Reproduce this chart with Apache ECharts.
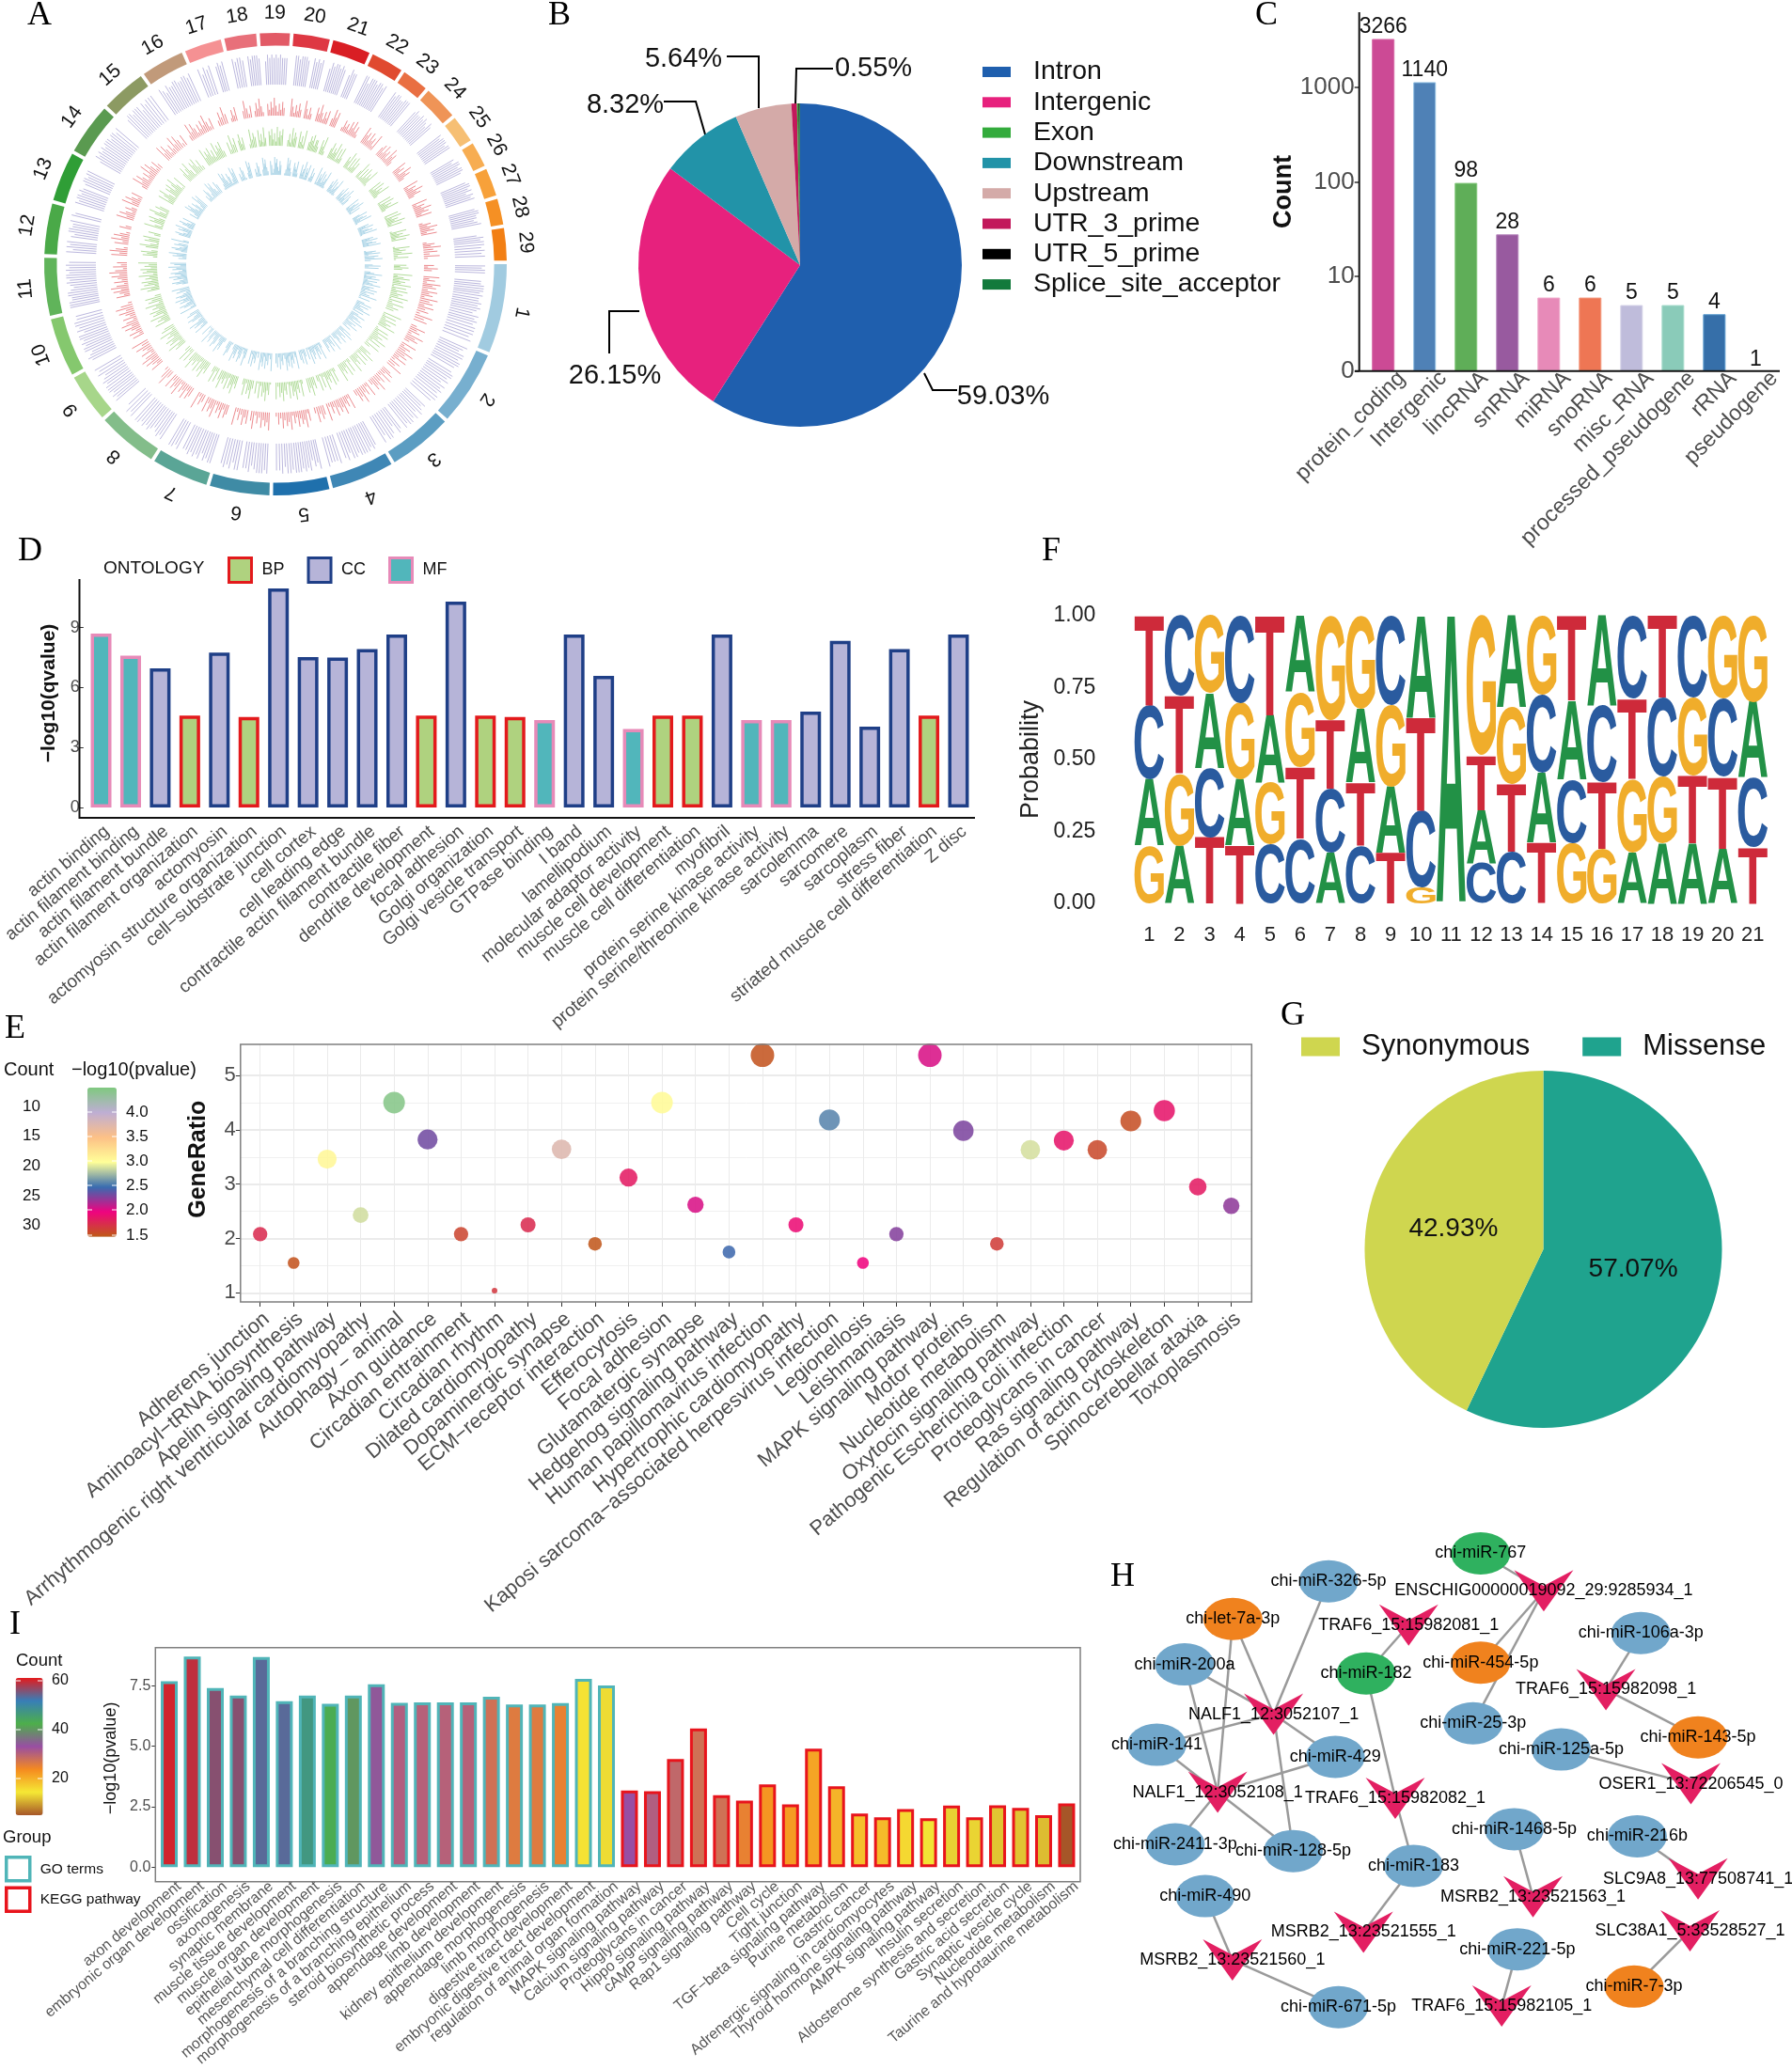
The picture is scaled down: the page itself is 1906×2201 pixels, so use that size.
<!DOCTYPE html>
<html><head><meta charset="utf-8">
<script src="https://cdn.jsdelivr.net/npm/echarts@6/dist/echarts.min.js"></script>
<style>html,body{margin:0;padding:0;background:#fff}#c{width:1906px;height:2201px}</style>
</head><body><div id="c"></div>
<script>
// ---------- A: circos ----------
const chromLabels = ['1','2','3','4','5','6','7','8','9','10','11','12','13','14','15','16','17','18','19','20','21','22','23','24','25','26','27','28','29'];
const chromSpans = [23.3,19.6,17,16.6,15,15.9,15.1,16,13,15.6,15.4,13.6,13.3,13.8,12.1,11.7,10.2,8.9,8.4,10,10.4,9,7.5,9.4,7.7,7.2,7.9,7.4,9];
const chromColors = ['#a1cbe0','#77afcf','#5b9dc2','#3f87b5','#1f70ac','#3f8ba5','#5aa596','#83bd8a','#a7d68a','#85c86e','#60b45a','#4aa948','#2f9e36','#5a9a50','#8c9a62','#c19a7a','#f59193','#e8707a','#e25a66','#de3843','#d91e24','#e04a30','#e96f42','#ef9457','#f6bf73','#f7ad52','#f7a13a','#f59024','#f27f14'];
const siteAngles = [
0.5,1.1,1.7,2.4,4.8,5.5,6.1,6.8,7.5,8.1,8.8,9.6,10.3,11,11.7,12.4,13.1,13.9,14.7,15.5,16.2,17,17.9,18.8,19.7,20.6,21.6,
23.9,24.7,25.4,26.2,27,27.8,28.6,29.3,30.1,31.6,32.4,33.1,33.9,34.7,35.5,36.3,37.1,37.8,38.6,39.5,40.4,41.3,
43.6,44.3,45,45.8,46.5,47.3,48.1,48.9,49.7,50.4,51.2,52.7,53.4,54.2,55,55.8,56.6,57.4,58.2,
61,61.7,62.4,63.1,63.9,64.6,65.4,66.1,66.9,67.7,68.4,69.2,70,71.6,72.4,73.2,74,74.9,
77.3,77.9,78.6,79.3,80,80.7,81.4,82.1,82.8,83.5,84.2,85,85.7,86.5,87.2,88,88.8,89.7,
92.4,93.1,93.8,94.5,95.2,96,96.8,97.5,98.3,99.1,100.6,101.4,102.1,102.9,103.7,104.5,105.3,
108.3,109,109.8,110.5,111.2,112,112.7,113.5,114.3,115,115.8,116.6,118.2,119,119.8,120.6,
123.4,124.2,124.9,125.7,126.5,127.3,128,128.8,129.6,130.4,131.2,132,133.6,134.4,135.3,136.3,
139.4,140.1,140.8,141.6,142.3,143,143.8,144.6,145.3,146.1,146.9,147.7,148.6,149.5,
152.4,153.1,153.8,154.5,155.3,156,156.7,157.4,158.2,158.9,159.6,160.4,161.1,161.9,162.7,163.5,164.4,165.3,
168,168.6,169.3,170,170.6,171.3,172,172.7,173.4,174.1,174.8,175.5,176.2,176.9,177.6,178.3,179,179.7,180.5,
183.4,184.1,184.8,185.5,186.2,187.7,188.4,189.1,189.8,190.5,191.2,192,193.6,194.3,
197.2,197.9,198.6,199.3,200,200.7,201.4,202.8,203.5,204.2,204.9,205.6,206.4,
210.3,211,211.7,212.4,213.1,213.8,214.5,215.2,215.9,216.6,217.3,218,218.7,219.5,220.4,
224.3,225,225.7,226.4,227.1,227.8,228.5,229.3,230,230.8,231.6,232.5,233.4,
236.2,236.9,237.6,238.3,239,239.7,240.4,241.1,241.8,242.5,243.2,243.9,244.6,245.4,
248.2,249,249.7,250.5,251.3,253.2,253.8,254.4,255.1,
258,258.7,259.4,260.1,260.8,262.4,263,263.6,264.2,264.8,265.4,
267.2,267.8,268.4,269,269.6,270.2,270.8,271.4,272,272.6,273.2,
275.8,276.4,277,277.6,278.2,278.8,279.4,281,281.6,282.2,282.8,283.4,
285.6,286.2,286.8,287.4,288,288.6,289.2,289.8,291.4,292,292.6,293.2,
296,296.6,297.2,297.8,298.4,299,299.6,300.2,300.8,301.4,302,
305,305.6,306.2,306.8,307.4,308,308.6,309.2,309.8,
312.6,313.2,313.8,314.4,315,315.6,316.2,316.8,317.4,318,318.6,
322,322.6,323.2,323.8,324.4,325,325.6,326.2,
329.6,330.2,330.8,331.4,332,332.6,333.2,333.8,
336.8,337.4,338,338.6,339.2,339.8,340.4,341,341.6,
344.6,345.2,345.8,346.4,347,347.6,348.2,348.8,
352,352.6,353.2,353.8,354.6,355.4,356.2,357,357.8];
const purpleLevels = "989988999898898987989899989987998998899897989899887897989989896899798989999899798988899786989899989979889899987988997989899897989898898999898789898999897989899989879898987998989979899889998899878989989898979898799889989899898899899798989899989989899899979899998798899889989979898989989989899987989898988899899989898979899898798899799989989";
const redLevels = "5274836295738462957384629573846295738264957382649573826495738264957382649574836295748362957483629574836295748362957483629573846295738462957384629573849627358496273584962735849627358496273584962735849627358496273948526394852639485263948526394852639485263948526394852637495263749526374952637495263749526374952637495263749526374958263";
const greenLevels = "6374925836491728364917283649172836491728364927183649271836492718364927183649271836495728164957281649572816495728164957283649572836495728364957283649572836492758364927583649275836492758364927583649275836492758369417583694175836941758369417583694175836941758362947583629475836294758362947583629475836294758362947583629475836";
const blueLevels = "4827359164827359164827359164827359164825739164825739164825739164825739164825739164827593164827593164827593164827593164827593168427593168427593168427593168427593168427593168427593684275936842759368427593684275936842759368427593684275139684275139684275139684275139684275139684275139684275139684275139684275139684275";
// ---------- B ----------
const annotNames = ['Intron','Intergenic','Downstream','Upstream','UTR_3_prime','Exon','UTR_5_prime','Splice_site_acceptor'];
const annotPercent = [59.03,26.15,8.32,5.64,0.55,0.15,0.08,0.08];
const annotColors = ['#1f5fae','#e7217d','#2293a8','#d4aaa8','#c2185b','#33ab3c','#000000','#127a3c'];
const annotLegend = ['Intron','Intergenic','Exon','Downstream','Upstream','UTR_3_prime','UTR_5_prime','Splice_site_acceptor'];
// ---------- C ----------
const biotypes = ['protein_coding','Intergenic','lincRNA','snRNA','miRNA','snoRNA','misc_RNA','processed_pseudogene','rRNA','pseudogene'];
const biotypeCounts = [3266,1140,98,28,6,6,5,5,4,1];
const biotypeColors = ['#cc4a95','#4f81b6','#5fae58','#985a9f','#e78ab8','#ee7654','#bfbcdb','#8acbb9','#366fa9','#ffffff'];
const biotypeBorders = ['#d76aa8','#8fbde0','#86c97e','#b88abf','#efa8cb','#f39a80','#d5d3e8','#a8dccd','#5f9fd0','#ffffff'];
// ---------- D ----------
const ontologyTerms = ['actin binding','actin filament binding','actin filament bundle','actin filament organization','actomyosin','actomyosin structure organization','cell\u2212substrate junction','cell cortex','cell leading edge','contractile actin filament bundle','contractile fiber','dendrite development','focal adhesion','Golgi organization','Golgi vesicle transport','GTPase binding','I band','lamellipodium','molecular adaptor activity','muscle cell development','muscle cell differentiation','myofibril','protein serine kinase activity','protein serine/threonine kinase activity','sarcolemma','sarcomere','sarcoplasm','stress fiber','striated muscle cell differentiation','Z disc'];
const ontologyQ = [8.7,7.6,6.96,4.6,7.75,4.53,10.96,7.53,7.5,7.92,8.65,4.6,10.3,4.6,4.53,4.37,8.65,6.58,3.93,4.6,4.6,8.65,4.37,4.37,4.8,8.34,4.05,7.92,4.6,8.65];
const ontologyClass = ['MF','MF','CC','BP','CC','BP','CC','CC','CC','CC','CC','BP','CC','BP','BP','MF','CC','CC','MF','BP','BP','CC','MF','MF','CC','CC','CC','CC','BP','CC'];
// ---------- E ----------
const keggTerms = ['Adherens junction','Aminoacyl\u2212tRNA biosynthesis','Apelin signaling pathway','Arrhythmogenic right ventricular cardiomyopathy','Autophagy \u2212 animal','Axon guidance','Circadian entrainment','Circadian rhythm','Dilated cardiomyopathy','Dopaminergic synapse','ECM\u2212receptor interaction','Efferocytosis','Focal adhesion','Glutamatergic synapse','Hedgehog signaling pathway','Human papillomavirus infection','Hypertrophic cardiomyopathy','Kaposi sarcoma\u2212associated herpesvirus infection','Legionellosis','Leishmaniasis','MAPK signaling pathway','Motor proteins','Nucleotide metabolism','Oxytocin signaling pathway','Pathogenic Escherichia coli infection','Proteoglycans in cancer','Ras signaling pathway','Regulation of actin cytoskeleton','Spinocerebellar ataxia','Toxoplasmosis'];
const keggRatio = [2.08,1.55,3.46,2.43,4.5,3.82,2.08,1.04,2.25,3.64,1.9,3.12,4.5,2.62,1.75,5.37,2.25,4.18,1.55,2.08,5.37,3.98,1.9,3.63,3.8,3.63,4.16,4.35,2.95,2.6];
const keggLogP = [1.75,1.52,3.05,2.87,4.45,2.33,1.6,1.68,1.75,3.75,1.5,1.85,3.03,2.05,2.47,1.52,1.93,2.57,1.98,2.28,2.05,2.3,1.65,2.88,1.88,1.58,1.55,1.88,1.85,2.25];
const keggCount = [12,9,20,14,26,22,12,6,13,21,11,18,26,15,10,31,13,24,9,12,31,23,11,21,22,21,24,25,17,15];
// ---------- F ----------
const logoPositions = ['1','2','3','4','5','6','7','8','9','10','11','12','13','14','15','16','17','18','19','20','21'];
const probA = [.23,.20,.26,.23,.235,.265,.175,.255,.23,.355,1,.185,.32,.245,.275,.315,.175,.21,.21,.19,.265];
const probC = [.26,.28,.24,.305,.205,.225,.225,.20,.31,.265,0,.14,.18,.27,.22,.265,.29,.275,.285,.27,.24];
const probG = [.20,.25,.27,.265,.215,.26,.36,.325,.285,.055,0,.485,.265,.275,.21,.19,.255,.23,.27,.29,.30];
const probT = [.31,.27,.23,.20,.345,.25,.24,.22,.175,.325,0,.19,.235,.21,.295,.23,.28,.285,.235,.25,.195];
const logoColors = {A:'#229146',C:'#2a5b9f',G:'#f0ad2b',T:'#ce2a3a'};
// ---------- G ----------
const mutationNames = ['Missense','Synonymous'];
const mutationPercent = [57.07,42.93];
const mutationColors = ['#1fa38e','#cfd64f'];
// ---------- H ----------
const mirnaNodes = [
['chi-miR-767',872,35,'#2fb15f'],['chi-miR-326-5p',532,118,'#71a7cb'],['chi-let-7a-3p',318,230,'#f0821e'],['chi-miR-200a',210,365,'#71a7cb'],
['chi-miR-182',616,392,'#2fb15f'],['chi-miR-454-5p',872,360,'#f0821e'],['chi-miR-106a-3p',1230,272,'#71a7cb'],['chi-miR-25-3p',855,540,'#71a7cb'],
['chi-miR-143-5p',1358,582,'#f0821e'],['chi-miR-125a-5p',1052,618,'#71a7cb'],['chi-miR-141',148,604,'#71a7cb'],['chi-miR-429',547,640,'#71a7cb'],
['chi-miR-1468-5p',947,855,'#71a7cb'],['chi-miR-216b',1222,876,'#71a7cb'],['chi-miR-2411-3p',189,900,'#71a7cb'],['chi-miR-128-5p',453,920,'#71a7cb'],
['chi-miR-183',722,964,'#71a7cb'],['chi-miR-490',256,1054,'#71a7cb'],['chi-miR-221-5p',954,1212,'#71a7cb'],['chi-miR-7-3p',1215,1323,'#f0821e'],['chi-miR-671-5p',554,1384,'#71a7cb']];
const circNodes = [
['ENSCHIG00000019092_29:9285934_1',1013,146],['TRAF6_15:15982081_1',711,248],['TRAF6_15:15982098_1',1152,440],['NALF1_12:3052107_1',409,513],
['OSER1_13:72206545_0',1342,720],['NALF1_12:3052108_1',284,745],['TRAF6_15:15982082_1',681,763],['SLC9A8_13:77508741_1',1358,1003],
['MSRB2_13:23521563_1',989,1056],['SLC38A1_5:33528527_1',1340,1157],['MSRB2_13:23521555_1',610,1161],['MSRB2_13:23521560_1',317,1244],['TRAF6_15:15982105_1',919,1381]];
const netEdges = [
['chi-miR-767','ENSCHIG00000019092_29:9285934_1'],['chi-miR-454-5p','ENSCHIG00000019092_29:9285934_1'],['chi-miR-25-3p','ENSCHIG00000019092_29:9285934_1'],
['chi-miR-326-5p','NALF1_12:3052107_1'],['chi-let-7a-3p','NALF1_12:3052107_1'],['chi-let-7a-3p','NALF1_12:3052108_1'],['chi-miR-200a','NALF1_12:3052107_1'],['chi-miR-200a','NALF1_12:3052108_1'],
['chi-miR-141','NALF1_12:3052107_1'],['chi-miR-141','NALF1_12:3052108_1'],['chi-miR-429','NALF1_12:3052107_1'],['chi-miR-429','NALF1_12:3052108_1'],['chi-miR-128-5p','NALF1_12:3052107_1'],['chi-miR-128-5p','NALF1_12:3052108_1'],['chi-miR-2411-3p','NALF1_12:3052108_1'],
['chi-miR-182','TRAF6_15:15982081_1'],['chi-miR-182','TRAF6_15:15982082_1'],['chi-miR-183','TRAF6_15:15982082_1'],['chi-miR-183','MSRB2_13:23521555_1'],['chi-miR-106a-3p','TRAF6_15:15982098_1'],['chi-miR-143-5p','TRAF6_15:15982098_1'],
['chi-miR-125a-5p','OSER1_13:72206545_0'],['chi-miR-1468-5p','MSRB2_13:23521563_1'],['chi-miR-216b','SLC9A8_13:77508741_1'],['chi-miR-7-3p','SLC38A1_5:33528527_1'],['chi-miR-490','MSRB2_13:23521560_1'],['chi-miR-671-5p','MSRB2_13:23521560_1'],['chi-miR-221-5p','TRAF6_15:15982105_1']];
// ---------- I ----------
const enrichTerms = ['axon development','embryonic organ development','ossification','axonogenesis','synaptic membrane','muscle tissue development','muscle organ development','epithelial tube morphogenesis','mesenchymal cell differentiation','morphogenesis of a branching structure','morphogenesis of a branching epithelium','steroid biosynthetic process','appendage development','limb development','kidney epithelium development','appendage morphogenesis','limb morphogenesis','digestive tract development','embryonic digestive tract development','regulation of animal organ formation','MAPK signaling pathway','Calcium signaling pathway','Proteoglycans in cancer','Hippo signaling pathway','cAMP signaling pathway','Rap1 signaling pathway','Cell cycle','Tight junction','TGF\u2212beta signaling pathway','Purine metabolism','Gastric cancer','Adrenergic signaling in cardiomyocytes','Thyroid hormone signaling pathway','AMPK signaling pathway','Insulin secretion','Aldosterone synthesis and secretion','Gastric acid secretion','Synaptic vesicle cycle','Nucleotide metabolism','Taurine and hypotaurine metabolism'];
const enrichLogP = [7.68,8.7,7.4,7.09,8.68,6.86,7.09,6.75,7.09,7.56,6.79,6.81,6.81,6.81,7.04,6.72,6.72,6.78,7.78,7.51,3.17,3.14,4.47,5.73,2.97,2.75,3.42,2.59,4.89,3.34,2.21,2.06,2.4,2.02,2.54,2.06,2.55,2.45,2.15,2.63];
const enrichCount = [60,59,56,56,53.5,53.5,47,43,40,34,30.5,30,30,30,27.5,26,26,25,15,13.5,33,30.5,29,27.5,27.5,25,22.5,22,21,19.5,18.5,19,16,14,12.8,13,12,12,11.5,5];

const FF='"Liberation Sans"';
const GRAY='#4d4d4d';
const grids=[],xAxes=[],yAxes=[],series=[],legends=[],vmaps=[],gfx=[];
function T(text,x,y,size,o){gfx.push({type:'text',x:x,y:y,z:50,silent:true,style:Object.assign({text:text,font:(o&&o.weight?o.weight+' ':'')+size+'px '+((o&&o.family)||FF),fill:(o&&o.fill)||'#111',align:(o&&o.align)||'left',verticalAlign:'middle'})});}
function L(points,color,w){gfx.push({type:'polyline',z:40,silent:true,shape:{points:points},style:{stroke:color,lineWidth:w,fill:null}});}
function R(x,y,w,h,color,lw){gfx.push({type:'rect',z:40,silent:true,shape:{x:x,y:y,width:w,height:h},style:{stroke:color,lineWidth:lw,fill:null}});}
function addGrid(left,top,width,height){grids.push({left:left,top:top,width:width,height:height,containLabel:false});return grids.length-1;}

// panel letters
[['A',29,17],['B',583,17],['C',1335,17],['D',19,587],['F',1108,587],['E',5,1095],['G',1362,1081],['H',1181,1678],['I',10,1729]].forEach(p=>T(p[0],p[1],p[2],36,{family:'"Liberation Serif"',fill:'#000'}));

// ---------- A ----------
const polar={center:[293,281],radius:246};
const angleAxis={type:'value',min:0,max:360,startAngle:0,clockwise:true,show:false};
const radiusAxis={type:'value',min:0,max:246,show:false};
let cum=0;const chromRows=chromSpans.map(s=>{const r=[240,cum,cum+s-0.9];cum+=s;return r;});
function rOf(api,v,ang,cs){const p=api.coord([v,ang]);return Math.hypot(p[0]-cs.cx,p[1]-cs.cy);}
series.push({type:'custom',name:'chromosomes',coordinateSystem:'polar',silent:true,data:chromRows,
 renderItem(params,api){const cs=params.coordSys,a0=api.value(1),a1=api.value(2);
  const ro=rOf(api,246,a0,cs),ri=rOf(api,232.6,a0,cs);
  const mid=(a0+a1)/2,lp=api.coord([267,mid]);
  return {type:'group',children:[
   {type:'sector',shape:{cx:cs.cx,cy:cs.cy,r:ro,r0:ri,startAngle:a0*Math.PI/180,endAngle:a1*Math.PI/180,clockwise:true},style:{fill:chromColors[params.dataIndex]}},
   {type:'text',x:lp[0],y:lp[1],rotation:-(mid-270)*Math.PI/180,style:{text:chromLabels[params.dataIndex],font:'21px '+FF,fill:'#111',align:'center',verticalAlign:'middle'}}]};
 }});
[['purple',purpleLevels,191,223,'#bcb8de'],['red',redLevels,158,177,'#ec8a8e'],['green',greenLevels,126,146,'#b2dc9b'],['blue',blueLevels,95,114,'#aed6e8']].forEach(t=>{
 series.push({type:'custom',name:t[0]+' track',coordinateSystem:'polar',silent:true,
  data:siteAngles.map((a,i)=>[+t[1].charAt(i%t[1].length),a]),
  renderItem(params,api){const a=api.value(1),lv=api.value(0);
   const p0=api.coord([t[2],a]),p1=api.coord([t[2]+(t[3]-t[2])*lv/9,a]);
   return {type:'line',shape:{x1:p0[0],y1:p0[1],x2:p1[0],y2:p1[1]},style:{stroke:t[4],lineWidth:1}};
  }});
});

// ---------- B ----------
const bLabelPos={0:{t:[1067,422],l:[[983,397],[992,415],[1018,415]]},1:{t:[654,400],l:[[680,331],[648,331],[648,376]]},2:{t:[665,112],l:[[752,150],[740,108],[706,108]]},3:{t:[727,63],l:[[807,115],[807,60],[773,60]]},4:{t:[929,73],l:[[846,112],[847,73],[886,73]]}};
series.push({type:'pie',name:'annotation',center:[851,282],radius:[0,172],startAngle:90,silent:true,avoidLabelOverlap:false,
 data:annotNames.map((n,i)=>({name:n,value:annotPercent[i],itemStyle:{color:annotColors[i]},label:{show:i<5},labelLine:{show:i<5}})),
 label:{position:'outside',formatter:p=>p.value.toFixed(2)+'%',fontSize:29,color:'#111'},
 labelLine:{show:true,lineStyle:{color:'#000',width:2}},
 labelLayout(p){const q=bLabelPos[p.dataIndex];if(!q)return {};return {x:q.t[0],y:q.t[1],align:'center',verticalAlign:'middle',labelLinePoints:q.l};}
});
legends.push({data:annotLegend,left:1045,top:62,orient:'vertical',itemWidth:30,itemHeight:11,itemGap:3.3,padding:0,selectedMode:false,icon:'rect',textStyle:{fontSize:28.5,color:'#111',padding:[0,0,0,19]}});

// ---------- C ----------
{const g=addGrid(1449.2,13,440.2,381.8);
 xAxes.push({type:'category',gridIndex:g,data:biotypes,axisLine:{show:false},axisTick:{alignWithLabel:true,length:5,lineStyle:{color:'#333',width:1.5}},axisLabel:{interval:0,rotate:45,fontSize:23.5,color:GRAY,margin:7,verticalAlign:'top',padding:[0,-16,0,0]}});
 yAxes.push({type:'log',gridIndex:g,logBase:10,min:1,max:6266,offset:3.5,axisLine:{show:false},axisTick:{show:true,length:5,customValues:[1,10,100,1000],lineStyle:{color:'#333',width:1.5}},splitLine:{show:false},minorSplitLine:{show:false},
  axisLabel:{customValues:[1,10,100,1000],formatter:v=>Math.round(v)===1?'0':String(Math.round(v)),fontSize:26,color:GRAY,margin:5},
  name:'Count',nameLocation:'middle',nameGap:67,nameTextStyle:{fontSize:27,fontWeight:'bold',color:'#111'}});
 series.push({type:'bar',name:'biotype',xAxisIndex:xAxes.length-1,yAxisIndex:yAxes.length-1,barWidth:24,silent:true,
  data:biotypeCounts.map((v,i)=>({value:v,itemStyle:{color:biotypeColors[i],borderColor:biotypeBorders[i],borderWidth:i==9?0:1}})),
  label:{show:true,position:'top',distance:1,fontSize:23,color:'#111'}});
 L([[1445.7,13],[1445.7,394.8]],'#111',2);L([[1441,394.8],[1893,394.8]],'#111',2);
}

// ---------- D ----------
{const g=addGrid(87.6,616,947.6,243);
 xAxes.push({type:'category',gridIndex:g,data:ontologyTerms,offset:11,axisLine:{show:false},axisTick:{alignWithLabel:true,length:4,lineStyle:{color:'#333',width:1.5}},axisLabel:{interval:0,rotate:40,fontSize:19,color:GRAY,margin:5,verticalAlign:'top'}});
 yAxes.push({type:'value',gridIndex:g,min:0,max:11.43,interval:3,offset:3,axisLine:{show:false},axisTick:{show:true,length:4,customValues:[0,3,6,9],lineStyle:{color:'#333'}},splitLine:{show:false},
  axisLabel:{customValues:[0,3,6,9],fontSize:18,color:GRAY,margin:4},
  name:'\u2212log10(qvalue)',nameLocation:'middle',nameGap:26,nameTextStyle:{fontSize:21,fontWeight:'bold',color:'#111'}});
 const xi=xAxes.length-1,yi=yAxes.length-1;
 const styles={BP:['#afd27f','#e31a1c'],CC:['#b6b4d8','#1f3f87'],MF:['#51b6bb','#e78ab8']};
 Object.keys(styles).forEach(k=>{series.push({type:'bar',name:k,xAxisIndex:xi,yAxisIndex:yi,barWidth:22,barGap:'-100%',silent:true,
  itemStyle:{color:styles[k][0],borderColor:styles[k][1],borderWidth:3.5},
  data:ontologyQ.map((v,i)=>ontologyClass[i]===k?v:null)});});
 legends.push({data:Object.keys(styles).map(k=>({name:k,itemStyle:{color:styles[k][0],borderColor:styles[k][1],borderWidth:3}})),left:242,top:592,itemWidth:24,itemHeight:26,itemGap:24,padding:0,selectedMode:false,icon:'rect',textStyle:{fontSize:18,color:'#111',padding:[0,0,0,6]}});
 T('ONTOLOGY',110,605,19);
 L([[84.5,616],[84.5,870],[1037,870]],'#111',2);
}

// ---------- E ----------
{const gh=addGrid(255.8,1115.2,1075.5,260.1);
 xAxes.push({type:'category',gridIndex:gh,data:keggTerms,show:false});
 yAxes.push({type:'value',gridIndex:gh,min:1,max:5.5,interval:1,axisLine:{show:false},axisTick:{show:true,length:5,customValues:[1,2,3,4,5],lineStyle:{color:'#333'}},
  splitLine:{show:true,lineStyle:{color:'#ebebeb',width:2}},minorTick:{show:false,splitNumber:2},minorSplitLine:{show:true,lineStyle:{color:'#f0f0f0',width:1}},
  axisLabel:{customValues:[1,2,3,4,5],fontSize:22,color:GRAY,margin:5},
  name:'GeneRatio',nameLocation:'middle',nameGap:32,nameTextStyle:{fontSize:25,fontWeight:'bold',color:'#111',padding:[0,0,0,24]}});
 const g=addGrid(276.7,1111,1032.9,274);
 xAxes.push({type:'category',gridIndex:g,data:keggTerms,boundaryGap:false,axisLine:{show:false},axisTick:{show:true,length:5,lineStyle:{color:'#333'}},splitLine:{show:true,lineStyle:{color:'#ebebeb',width:1}},axisLabel:{interval:0,rotate:40,fontSize:22,color:GRAY,margin:7,verticalAlign:'top'}});
 yAxes.push({type:'value',gridIndex:g,min:0.832,max:5.57,show:false});
 const sizeOf=c=>6+19*Math.sqrt((c-6)/25);
 series.push({type:'scatter',name:'kegg',xAxisIndex:xAxes.length-1,yAxisIndex:yAxes.length-1,silent:true,
  encode:{x:0,y:1},data:keggTerms.map((n,i)=>[n,keggRatio[i],keggLogP[i],keggCount[i]]),
  symbolSize:v=>sizeOf(v[3]),itemStyle:{opacity:0.87}});
 vmaps.push({type:'continuous',seriesIndex:series.length-1,dimension:2,min:1.48,max:4.5,left:93,top:1157,itemWidth:31,itemHeight:158.7,padding:0,text:null,calculable:false,hoverLink:false,
  inRange:{color:['#BF5B17','#F0027F','#386CB0','#FFFF99','#FDC086','#BEAED4','#7FC97F']}});
 R(255.8,1111,1075.5,274,'#7f7f7f',1.5);
 T('Count',4,1138,20);T('\u2212log10(pvalue)',76,1138,20);
 [['10',1177],['15',1208],['20',1240],['25',1272],['30',1303]].forEach(a=>T(a[0],24,a[1],17));
 [['4.0',1183],['3.5',1209],['3.0',1235],['2.5',1261],['2.0',1287],['1.5',1314]].forEach(a=>{T(a[0],134,a[1],17);L([[119,a[1]],[124,a[1]]],'#ffffff',1);L([[93,a[1]],[98,a[1]]],'#ffffff',1);});
}

// ---------- F ----------
const logoLetters=['A','C','G','T'],logoProb={A:probA,C:probC,G:probG,T:probT};
const logoRows=[];
logoPositions.forEach((p,i)=>{let y=0;logoLetters.map(l=>[l,logoProb[l][i]]).filter(a=>a[1]>0).sort((a,b)=>a[1]-b[1]).forEach(a=>{logoRows.push([p,y,y+a[1],a[0]]);y+=a[1];});});
const mctx=document.createElement('canvas').getContext('2d');
const LOGOFONT='bold 200px '+FF;
function glyph(ch){mctx.font=LOGOFONT;mctx.textAlign='center';mctx.textBaseline='middle';const m=mctx.measureText(ch);return m;}
{const g=addGrid(1206.3,655,674.1,306);
 xAxes.push({type:'category',gridIndex:g,data:logoPositions,axisLine:{show:false},axisTick:{show:false},axisLabel:{interval:0,fontSize:22,color:'#222',margin:23}});
 yAxes.push({type:'value',gridIndex:g,min:0,max:1,interval:0.25,axisLine:{show:false},axisTick:{show:false},splitLine:{show:false},axisLabel:{formatter:v=>v.toFixed(2),fontSize:23,color:'#222',margin:41,padding:[5,0,0,0]},
  name:'Probability',nameLocation:'middle',nameGap:96,nameTextStyle:{fontSize:27,color:'#222'}});
 series.push({type:'custom',name:'logo',xAxisIndex:xAxes.length-1,yAxisIndex:yAxes.length-1,silent:true,clip:false,encode:{x:0,y:[1,2]},
  data:logoRows,
  renderItem(params,api){const row=logoRows[params.dataIndex];
   const top=api.coord([api.value(0),row[2]]),bot=api.coord([api.value(0),row[1]]);
   const band=api.size([1,0])[0],W=band*0.975,H=bot[1]-top[1];
   const m=glyph(row[3]),gw=m.actualBoundingBoxLeft+m.actualBoundingBoxRight,gh=m.actualBoundingBoxAscent+m.actualBoundingBoxDescent;
   const sx=W/gw,sy=H/gh;
   return {type:'text',x:top[0]-W/2+m.actualBoundingBoxLeft*sx,y:top[1]+m.actualBoundingBoxAscent*sy,scaleX:sx,scaleY:sy,
    style:{text:row[3],font:LOGOFONT,fill:logoColors[row[3]],align:'center',verticalAlign:'middle'}};
  }});
}

// ---------- G ----------
series.push({type:'pie',name:'mutation',center:[1641.5,1329],radius:[0,190],startAngle:90,silent:true,
 data:mutationNames.map((n,i)=>({name:n,value:mutationPercent[i],itemStyle:{color:mutationColors[i]}})),
 label:{position:'inside',formatter:p=>p.value.toFixed(2)+'%',fontSize:28,color:'#111'},labelLine:{show:false}});
legends.push({data:['Synonymous','Missense'],left:1384,top:1098,orient:'horizontal',itemWidth:41,itemHeight:20,itemGap:56,padding:0,selectedMode:false,icon:'rect',textStyle:{fontSize:31,color:'#111',padding:[0,0,0,18]}});

// ---------- H ----------
{const g=addGrid(1160,1640,746,561);
 xAxes.push({type:'value',gridIndex:g,min:0,max:1568,show:false});
 yAxes.push({type:'value',gridIndex:g,min:0,max:1568,inverse:true,show:false});
 const ELL='path://M0,50 A50,50 0 1 1 100,50 A50,50 0 1 1 0,50 Z';
 const VEE='path://M0,0 L50,38 L100,0 L50,100 Z';
 series.push({type:'graph',name:'network',coordinateSystem:'cartesian2d',xAxisIndex:xAxes.length-1,yAxisIndex:yAxes.length-1,layout:'none',silent:true,roam:false,
  label:{show:true,position:'inside',fontSize:18,color:'#000'},
  lineStyle:{color:'#9a9a9a',width:2.5,opacity:1,curveness:0},
  data:mirnaNodes.map(n=>({name:n[0],value:[n[1],n[2]],symbol:ELL,symbolSize:[63,45],itemStyle:{color:n[3]}}))
   .concat(circNodes.map(n=>({name:n[0],value:[n[1],n[2]],symbol:VEE,symbolSize:[63,44],itemStyle:{color:'#e31f62'}}))),
  links:netEdges.map(e=>({source:e[0],target:e[1]}))});
}

// ---------- I ----------
{const g=addGrid(167.8,1754.6,978.9,236.1);
 xAxes.push({type:'category',gridIndex:g,data:enrichTerms,offset:11,axisLine:{show:false},axisTick:{alignWithLabel:true,length:4,lineStyle:{color:'#333',width:1.5}},axisLabel:{interval:0,rotate:40,fontSize:16,color:'#555',margin:6,verticalAlign:'top',padding:[0,-7,0,0]}});
 yAxes.push({type:'value',gridIndex:g,min:0,max:9,interval:2.5,offset:2.5,axisLine:{show:false},axisTick:{show:true,length:4,customValues:[0,2.5,5,7.5],lineStyle:{color:'#333'}},splitLine:{show:false},
  axisLabel:{customValues:[0,2.5,5,7.5],formatter:v=>v.toFixed(1),fontSize:16,color:GRAY,margin:5},
  name:'\u2212log10(pvalue)',nameLocation:'middle',nameGap:36,nameTextStyle:{fontSize:18,color:'#111'}});
 const xi=xAxes.length-1,yi=yAxes.length-1;
 const rows=enrichTerms.map((n,i)=>[n,enrichLogP[i],enrichCount[i]]);
 const s0=series.length;
 series.push({type:'bar',name:'GO terms',xAxisIndex:xi,yAxisIndex:yi,barWidth:18,barGap:'-100%',silent:true,encode:{x:0,y:1},itemStyle:{borderColor:'#50b5b8',borderWidth:3},data:rows.slice(0,20)});
 series.push({type:'bar',name:'KEGG pathway',xAxisIndex:xi,yAxisIndex:yi,barWidth:18,barGap:'-100%',silent:true,encode:{x:0,y:1},itemStyle:{borderColor:'#e8141c',borderWidth:3},data:rows.slice(20)});
 vmaps.push({type:'continuous',seriesIndex:[s0,s0+1],dimension:2,min:5,max:61,left:16.6,top:1785,itemWidth:29,itemHeight:146,padding:0,text:null,calculable:false,hoverLink:false,
  inRange:{color:['#A65628','#F5E935','#F58A1F','#984EA3','#4DAF4A','#377EB8','#E41A1C']}});
 legends.push({data:[{name:'GO terms',itemStyle:{color:'#fff',borderColor:'#50b5b8',borderWidth:3.5}},{name:'KEGG pathway',itemStyle:{color:'#fff',borderColor:'#e8141c',borderWidth:3.5}}],left:5,top:1974,orient:'vertical',itemWidth:25,itemHeight:25,itemGap:4,padding:0,selectedMode:false,icon:'rect',textStyle:{fontSize:15.5,color:'#111',padding:[0,0,0,6]}});
 R(165.3,1752.7,983.7,249,'#7f7f7f',1.5);
 T('Count',17,1767,18.5);T('Group',3,1955,18.5);
 [['60',1788],['40',1840],['20',1892]].forEach(a=>{T(a[0],55,a[1],16);L([[40,a[1]],[45,a[1]]],'#fff',1);L([[17,a[1]],[22,a[1]]],'#fff',1);});
}

const chart=echarts.init(document.getElementById('c'),null,{renderer:'canvas'});
chart.setOption({animation:false,backgroundColor:'#fff',textStyle:{fontFamily:FF},tooltip:{show:false},
 polar:polar,angleAxis:angleAxis,radiusAxis:radiusAxis,
 grid:grids,xAxis:xAxes,yAxis:yAxes,legend:legends,visualMap:vmaps,series:series,graphic:{elements:gfx}});
</script></body></html>
